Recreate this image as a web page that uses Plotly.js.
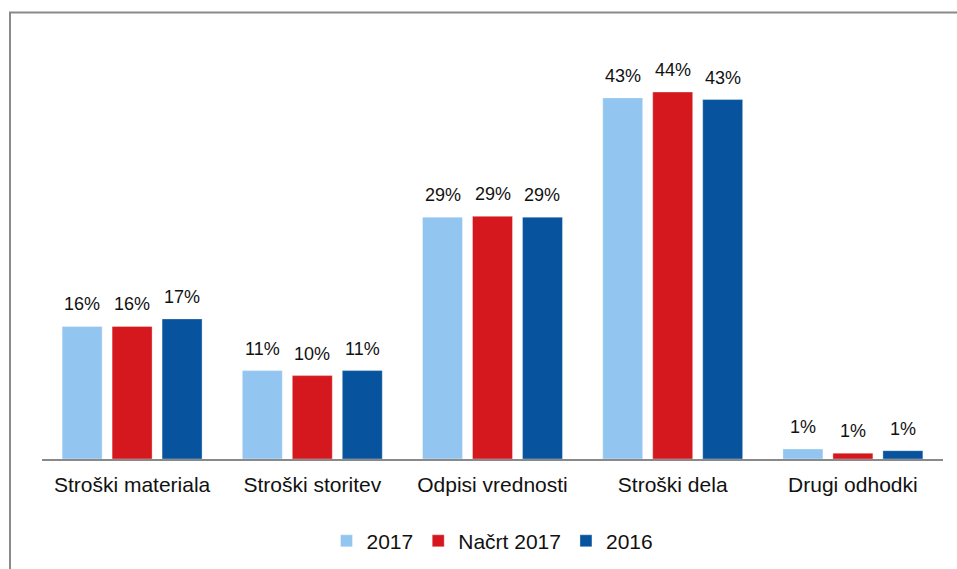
<!DOCTYPE html>
<html>
<head>
<meta charset="utf-8">
<script src="https://cdn.plot.ly/plotly-3.0.1.min.js"></script>
<style>
  html, body { margin: 0; padding: 0; background: #fff; }
  #chart { width: 957px; height: 569px; }
</style>
</head>
<body>
<div id="chart"></div>
<script>
const categories = ['Stroški materiala', 'Stroški storitev', 'Odpisi vrednosti', 'Stroški dela', 'Drugi odhodki'];
const seriesNames = ['2017', 'Načrt 2017', '2016'];
const values2017 = [15.9, 10.6, 29.0, 43.3, 1.2];
const valuesNacrt2017 = [15.9, 10.0, 29.1, 44.0, 0.7];
const values2016 = [16.8, 10.6, 29.0, 43.1, 1.0];
const seriesColors = ['#93C5F1', '#D5171E', '#07539D'];

const allValues = [values2017, valuesNacrt2017, values2016];
const FONT = 'Arial, "Liberation Sans", sans-serif';
const bargap = 0.168;
const bargroupgap = 0.2;

const traces = allValues.map((vals, i) => ({
  type: 'bar',
  name: seriesNames[i],
  x: categories,
  y: vals,
  marker: { color: seriesColors[i], line: { color: 'rgba(255,255,255,0.35)', width: 1 } },
  hoverinfo: 'skip'
}));

// value labels above the bars, positioned through the axis scales
const slot = (1 - bargap) / allValues.length;
const annotations = [];
allValues.forEach((vals, i) => {
  const off = (i - (allValues.length - 1) / 2) * slot;
  vals.forEach((v, j) => {
    annotations.push({
      xref: 'x', yref: 'y',
      x: j + off, y: v,
      text: Math.round(v) + '%',
      showarrow: false,
      xanchor: 'center', yanchor: 'bottom',
      yshift: 10,
      font: { family: FONT, size: 18, color: '#111' }
    });
  });
});

const layout = {
  width: 957,
  height: 569,
  margin: { l: 42, r: 14, t: 42, b: 110, autoexpand: false },
  paper_bgcolor: '#fff',
  plot_bgcolor: '#fff',
  font: { family: FONT, color: '#111' },
  barmode: 'group',
  bargap: bargap,
  bargroupgap: bargroupgap,
  showlegend: true,
  legend: {
    orientation: 'h',
    x: 0.5, xanchor: 'center',
    y: -0.197, yanchor: 'middle',
    font: { family: FONT, size: 21, color: '#111' },
    traceorder: 'normal'
  },
  xaxis: {
    type: 'category',
    showline: true,
    linecolor: '#898989',
    linewidth: 2,
    ticks: '',
    ticklabelstandoff: 6,
    showgrid: false,
    zeroline: false,
    automargin: false,
    tickfont: { family: FONT, size: 21, color: '#111' },
    fixedrange: true
  },
  yaxis: {
    range: [0, 50],
    visible: false,
    showgrid: false,
    zeroline: false,
    automargin: false,
    fixedrange: true
  },
  annotations: annotations,
  shapes: [{
    type: 'path',
    xref: 'paper', yref: 'paper',
    path: 'M-0.0355,-0.5 L-0.0355,1.0707 L1.1,1.0707',
    line: { color: '#8a8a8a', width: 2 }
  }]
};

Plotly.newPlot('chart', traces, layout, { staticPlot: true, displayModeBar: false });
</script>
</body>
</html>
